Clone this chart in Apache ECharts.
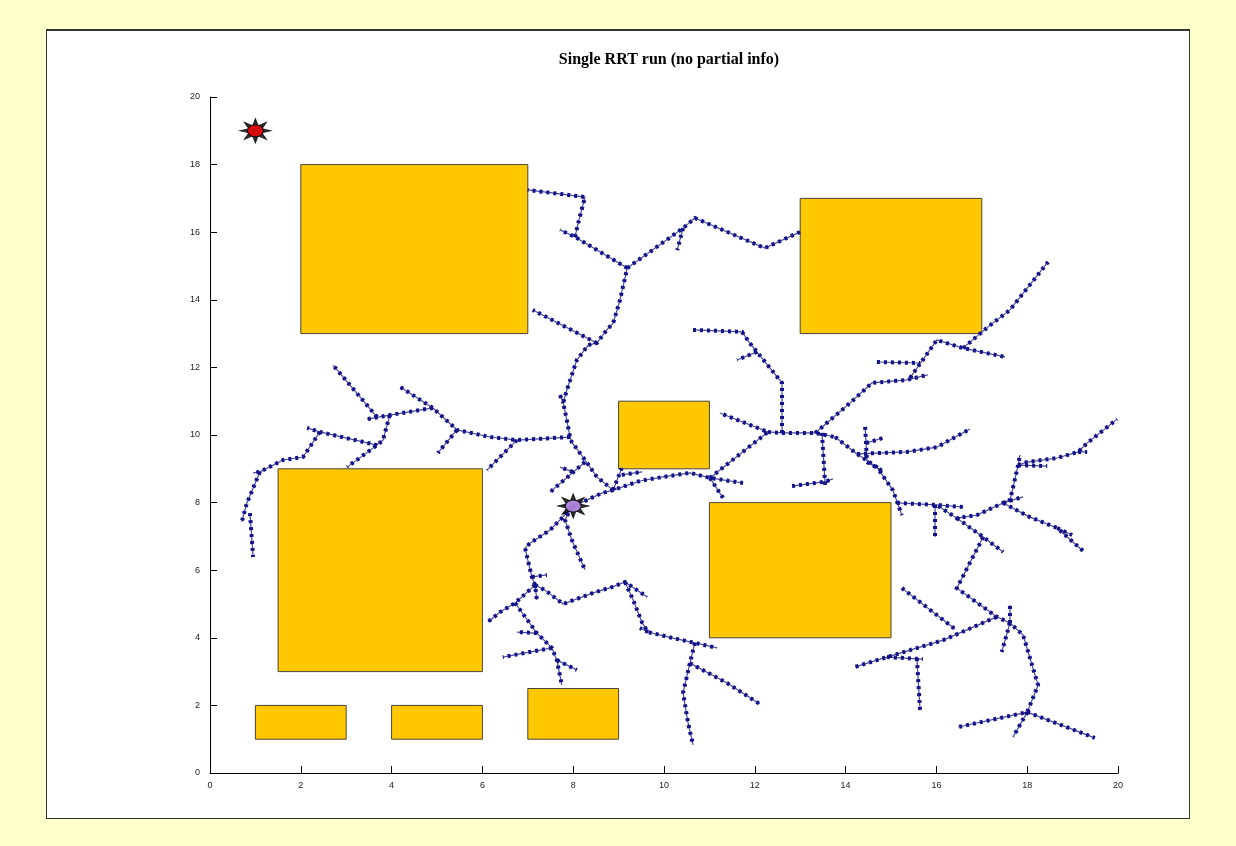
<!DOCTYPE html>
<html>
<head>
<meta charset="utf-8">
<script src="https://cdn.jsdelivr.net/npm/echarts@6/dist/echarts.min.js"></script>
<style>
  html, body { margin: 0; padding: 0; background: #ffffcc; }
  #panel { position: absolute; left: 46px; top: 29px; width: 1142px; height: 787px; background: #fff; border: 1px solid #333; border-top-width: 2px; }
  #main { position: absolute; left: 0; top: 0; width: 1236px; height: 846px; }
</style>
</head>
<body>
<div id="panel"></div>
<div id="main"></div>
<script>
// obstacles: [x0, y0, x1, y1]
const obstacles = [
  [2, 13, 7, 18],
  [13, 13, 17, 17],
  [9, 9, 11, 11],
  [1.5, 3, 6, 9],
  [11, 4, 15, 8],
  [1, 1, 3, 2],
  [4, 1, 6, 2],
  [7, 1, 9, 2.5]
];

const startPoint = [8.0, 7.9];
const goalPoint = [1.0, 19.0];

// tree branches, each a polyline of nodes
const centerBranches = [
  [[7.97,7.87],[8.63,8.28],[8.88,8.37],[9.47,8.64],[9.98,8.76],[10.57,8.88],[11.01,8.73],[11.74,8.58]],
  [[11.01,8.73],[11.30,8.14]],
  [[8.88,8.37],[9.07,9.02]],
  [[9.07,8.82],[9.52,8.91]],
  [[11.01,8.73],[12.29,10.09],[11.23,10.65]],
  [[12.29,10.09],[12.60,10.06],[13.33,10.06],[13.77,9.94]],
  [[12.60,10.06],[12.60,11.54],[12.51,11.69],[11.89,12.72],[11.72,13.05],[10.64,13.11]],
  [[12.05,12.46],[11.61,12.22]]
];

const rightBranches = [
  [[13.33,10.06],[14.10,10.95],[14.58,11.54],[15.35,11.63],[15.81,11.78]],
  [[15.42,11.69],[16.01,12.81],[16.59,12.57],[17.51,12.31]],
  [[14.69,12.16],[15.64,12.13]],
  [[16.59,12.57],[17.11,13.17],[17.62,13.70],[18.46,15.12]],
  [[13.48,10.06],[13.55,8.52]],
  [[12.82,8.49],[13.55,8.62],[13.72,8.70]],
  [[13.77,9.94],[14.25,9.44],[14.69,9.05],[15.04,8.37],[15.24,7.63]],
  [[14.25,9.44],[15.35,9.50],[16.01,9.64],[16.74,10.18]],
  [[14.43,10.24],[14.47,9.26]],
  [[14.45,9.76],[14.82,9.91]],
  [[14.47,9.20],[14.82,8.93]],
  [[15.13,7.99],[16.01,7.93],[16.59,7.87]],
  [[15.97,7.93],[15.97,6.98]],
  [[16.04,7.90],[16.45,7.54],[16.89,7.63],[17.47,7.99],[17.62,8.08],[17.69,8.46],[17.80,9.11],[17.84,9.41]],
  [[17.80,9.11],[18.44,9.08]],
  [[17.80,9.11],[18.00,9.20],[18.66,9.32],[19.12,9.50],[19.32,9.76],[19.98,10.47]],
  [[19.12,9.50],[19.32,9.50]],
  [[17.47,7.99],[17.91,8.17]],
  [[17.47,7.99],[18.06,7.57],[18.66,7.25],[19.23,6.57]],
  [[18.66,7.25],[18.99,7.04]],
  [[16.45,7.54],[17.03,6.98],[17.47,6.54]],
  [[17.03,6.98],[16.45,5.47],[17.33,4.62],[17.62,4.44],[17.91,4.08],[18.24,2.60],[18.00,1.80],[16.48,1.36]],
  [[18.00,1.80],[19.49,1.04]],
  [[18.00,1.80],[17.69,1.07]],
  [[17.62,4.44],[17.62,4.97]],
  [[17.62,4.44],[17.44,3.58]],
  [[17.33,4.62],[16.15,3.93],[14.91,3.43],[14.21,3.14]],
  [[15.57,3.40],[15.64,1.86]],
  [[14.91,3.43],[15.70,3.37]],
  [[15.24,5.47],[16.41,4.26]]
];

const lowerBranches = [
  [[7.97,7.87],[7.75,7.54],[7.49,7.19],[7.05,6.80],[6.94,6.66],[7.00,6.30],[7.09,5.80],[7.16,5.56],[7.20,5.12]],
  [[7.09,5.80],[7.42,5.86]],
  [[7.16,5.56],[6.72,5.03],[6.39,4.76],[6.12,4.47]],
  [[7.16,5.56],[7.38,5.41],[7.78,5.00],[8.44,5.33],[8.85,5.50],[9.14,5.65],[9.63,5.21]],
  [[9.14,5.65],[9.32,5.12],[9.52,4.44],[9.65,4.17],[10.20,3.99],[10.68,3.85],[11.17,3.70]],
  [[9.65,4.17],[9.47,4.29]],
  [[10.68,3.85],[10.57,3.25],[10.42,2.37],[10.53,1.48],[10.64,0.83]],
  [[10.57,3.25],[11.39,2.66],[12.11,2.04]],
  [[6.72,5.03],[7.20,4.14],[7.53,3.70],[7.64,3.34],[7.75,2.60]],
  [[7.20,4.14],[6.76,4.17]],
  [[7.53,3.70],[6.45,3.43]],
  [[7.64,3.34],[8.08,3.05]],
  [[7.97,7.87],[7.82,7.49],[7.97,6.89],[8.26,6.01]]
];

const upperBranches = [
  [[8.88,8.37],[8.52,8.76],[8.26,9.26],[7.97,9.79],[7.93,9.94],[7.86,10.44],[7.78,10.95],[7.86,11.33],[8.08,12.22],[8.33,12.66],[8.52,12.72],[8.74,13.11],[8.88,13.31],[9.03,13.99],[9.19,14.94]],
  [[7.71,11.18],[7.78,10.95]],
  [[8.26,9.20],[7.49,8.31]],
  [[7.99,8.91],[7.71,9.05]],
  [[9.19,14.94],[8.04,15.86],[7.71,16.07]],
  [[8.04,15.86],[8.11,16.27],[8.26,17.04],[7.00,17.25]],
  [[9.19,14.94],[10.42,16.12],[10.68,16.42],[12.22,15.53],[13.00,16.01]],
  [[10.42,16.12],[10.29,15.47]],
  [[8.52,12.72],[7.11,13.70]],
  [[7.93,9.94],[6.76,9.85],[6.17,9.94],[5.44,10.15],[4.91,10.80],[4.19,11.42]],
  [[6.76,9.85],[6.10,8.96]],
  [[5.44,10.15],[5.02,9.47]],
  [[4.91,10.80],[3.96,10.59],[3.46,10.47]],
  [[3.68,10.53],[2.71,12.07]],
  [[3.96,10.59],[3.81,9.85],[3.68,9.70],[3.02,9.05]],
  [[3.68,9.70],[2.42,10.09],[2.14,10.21]],
  [[2.42,10.09],[2.05,9.35],[1.61,9.26],[1.10,8.91],[0.95,8.88]],
  [[1.10,8.91],[0.81,7.98],[0.70,7.43]],
  [[0.88,7.69],[0.95,6.39]]
];

const treeBranches = [].concat(centerBranches, rightBranches, lowerBranches, upperBranches);

const starPath = 'path://M200,100L141.6,117.2L170.7,170.7L117.2,141.6L100,200L82.8,141.6L29.3,170.7L58.4,117.2L0,100L58.4,82.8L29.3,29.3L82.8,58.4L100,0L117.2,58.4L170.7,29.3L141.6,82.8Z';

const chartDom = document.getElementById('main');
const myChart = echarts.init(chartDom);

const axisCommon = {
  type: 'value',
  min: 0,
  max: 20,
  interval: 2,
  axisLine: { show: true, onZero: false, lineStyle: { color: '#000', width: 1 } },
  axisTick: { show: true, inside: true, length: 7, lineStyle: { color: '#000' } },
  axisLabel: { fontSize: 9, color: '#222', fontFamily: 'Liberation Sans Narrow, Liberation Sans, sans-serif' },
  splitLine: { show: false }
};

const option = {
  animation: false,
  title: {
    text: 'Single RRT run (no partial info)',
    left: 664,
    top: 47,
    textAlign: 'center',
    textStyle: { fontFamily: 'Liberation Serif, serif', fontWeight: 'bold', fontSize: 16, color: '#000' }
  },
  grid: { left: 210, top: 97, width: 908, height: 676 },
  xAxis: Object.assign({}, axisCommon, { axisLabel: Object.assign({}, axisCommon.axisLabel, { margin: 8 }) }),
  yAxis: Object.assign({}, axisCommon, { axisLabel: Object.assign({}, axisCommon.axisLabel, { margin: 10 }) }),
  series: [
    {
      type: 'custom',
      z: 1,
      data: obstacles,
      encode: { x: [0, 2], y: [1, 3] },
      renderItem: function (params, api) {
        const p0 = api.coord([api.value(0), api.value(3)]);
        const p1 = api.coord([api.value(2), api.value(1)]);
        return {
          type: 'rect',
          shape: { x: p0[0], y: p0[1], width: p1[0] - p0[0], height: p1[1] - p0[1] },
          style: { fill: '#ffc800', stroke: '#4a4438', lineWidth: 1 }
        };
      }
    },
    {
      type: 'lines',
      coordinateSystem: 'cartesian2d',
      polyline: true,
      silent: true,
      z: 2,
      lineStyle: { color: '#4a4a9a', width: 1.2, opacity: 1 },
      data: treeBranches.map(c => ({ coords: c }))
    },
    {
      type: 'lines',
      coordinateSystem: 'cartesian2d',
      polyline: true,
      silent: true,
      z: 3,
      lineStyle: { color: '#12128a', width: 4, opacity: 1, type: [3, 4] },
      data: treeBranches.map(c => ({ coords: c }))
    },
    {
      type: 'scatter',
      z: 4,
      symbol: starPath,
      symbolSize: [31, 24],
      itemStyle: { color: '#000', borderColor: '#000', borderWidth: 1 },
      data: [goalPoint, startPoint]
    },
    {
      type: 'scatter',
      z: 5,
      symbol: 'circle',
      symbolSize: [16, 12],
      itemStyle: { borderColor: '#000', borderWidth: 1 },
      data: [
        { value: goalPoint, itemStyle: { color: '#ff0000' } },
        { value: startPoint, itemStyle: { color: '#cc99ff' } }
      ]
    }
  ]
};

option && myChart.setOption(option);
</script>
</body>
</html>
